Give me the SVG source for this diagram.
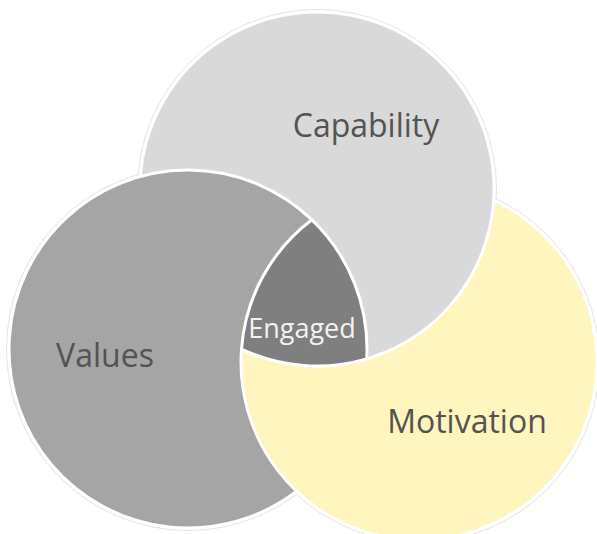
<svg xmlns="http://www.w3.org/2000/svg" width="597" height="534" viewBox="0 0 597 534">
  <style>
    .ring { fill: none; stroke: #e4e4e4; stroke-width: 1; }
    .edge { fill: none; stroke: #ffffff; stroke-width: 3; stroke-linecap: round; }
    .cap { fill: #d9d9d9; }
    .val { fill: #a5a5a5; }
    .mot { fill: #fff5be; }
    .eng { fill: #7f7f7f; stroke: #ffffff; stroke-width: 3; stroke-linejoin: round; }
    .label { font-family: "Open Sans", "Liberation Sans", sans-serif; font-size: 32px; fill: #535353; text-anchor: middle; }
    .label-light { font-family: "Open Sans", "Liberation Sans", sans-serif; font-size: 27px; fill: #f2f2f2; text-anchor: middle; }
  </style>
  <rect width="597" height="534" fill="#ffffff"/>

  <!-- faint outer outlines, hidden wherever another disk lies on top -->
  <g id="outlines">
    <circle class="ring" cx="317" cy="189" r="179.5"/>
    <circle class="ring" cx="188" cy="349" r="181.5"/>
    <circle class="ring" cx="419" cy="362" r="180.5"/>
  </g>

  <!-- Capability: full disk, bottom of the stack -->
  <g id="capability">
    <circle class="cap" cx="317" cy="189" r="177"/>
  </g>

  <!-- Values: full disk over Capability -->
  <g id="values">
    <circle class="val" cx="188" cy="349" r="179"/>
  </g>

  <!-- Motivation: disk minus Capability, so Capability stays on top of it -->
  <g id="motivation">
    <path class="mot" d="M 493.6 200.4 A 178 178 0 1 1 241.5 349.1 A 177 177 0 0 0 493.6 200.4 Z"/>
  </g>

  <!-- white edges, only where each rim is visible -->
  <g id="edges">
    <path class="edge" d="M 241.5 349.1 A 177 177 0 1 0 140.45 176.4"/>
    <path class="edge" d="M 311.9 219.8 A 179 179 0 1 0 296.6 491.3"/>
    <path class="edge" d="M 493.6 200.4 A 178 178 0 1 1 241.5 349.1"/>
  </g>

  <!-- centre where all three meet -->
  <g id="engaged">
    <path class="eng" d="M 311.9 219.8 A 179 179 0 0 1 366.7 358.9 A 177 177 0 0 1 241.5 349.1 A 178 178 0 0 1 311.9 219.8 Z"/>
  </g>

  <g id="labels">
    <text class="label" x="366" y="137">Capability</text>
    <text class="label" x="105" y="367">Values</text>
    <text class="label" x="467" y="433">Motivation</text>
    <text class="label-light" x="302" y="338">Engaged</text>
  </g>

  <g id="connectors"/>
</svg>
